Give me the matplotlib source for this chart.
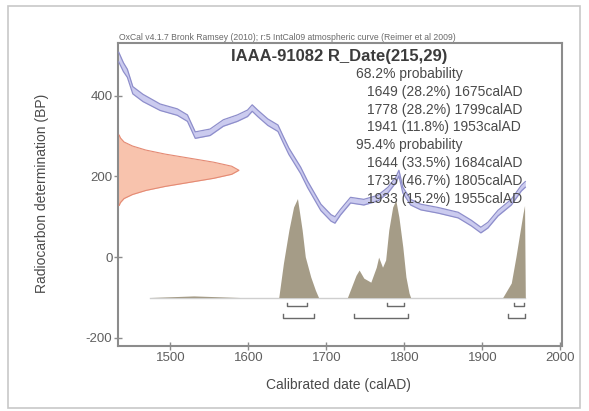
import numpy as np
import matplotlib
matplotlib.use("Agg")
import matplotlib.pyplot as plt
from matplotlib.patches import Rectangle

plt.rcParams['font.family'] = ['Liberation Sans', 'DejaVu Sans']
plt.rcParams['axes.unicode_minus'] = False

# calibration curve (IntCal09), centre of band
cal_years = [1434, 1440, 1445, 1452, 1465, 1487, 1509, 1522, 1532, 1551, 1568, 1586,
             1599, 1605, 1612, 1625, 1638, 1645, 1652, 1667, 1676, 1693, 1706, 1711,
             1718, 1731, 1748, 1766, 1779, 1789, 1793, 1798, 1808, 1821, 1843, 1869,
             1886, 1898, 1907, 1920, 1937, 1950, 1955]
cal_bp = [495, 470, 455, 413, 394, 371, 359, 344, 302, 309, 332, 344,
          356, 369, 356, 334, 319, 290, 262, 215, 180, 123, 97, 92,
          111, 141, 136, 146, 166, 191, 208, 166, 136, 124, 116, 104,
          84, 67, 79, 109, 136, 171, 180]
cal_err = [12, 11, 10, 9, 9, 8, 8, 8, 8, 8, 8, 8,
           8, 8, 8, 8, 8, 8, 8, 8, 8, 8, 8, 8,
           7, 7, 7, 7, 7, 7, 7, 7, 7, 7, 7, 7,
           7, 7, 7, 7, 7, 7, 7]

# radiocarbon measurement profile (BP vs relative density)
meas_bp = [128, 135, 145, 155, 165, 175, 185, 195, 205, 215,
           225, 235, 245, 255, 265, 275, 285, 295, 302]
meas_dens = [0.01, 0.02, 0.05, 0.12, 0.23, 0.39, 0.59, 0.79, 0.94, 1.0,
             0.94, 0.79, 0.59, 0.39, 0.23, 0.12, 0.05, 0.02, 0.01]

# calibrated probability distribution (height above its baseline)
post_years = [1474, 1530, 1590, 1639, 1645, 1652, 1658, 1663, 1669, 1673, 1680, 1686, 1690,
              1727, 1733, 1738, 1742, 1748, 1757, 1764, 1767, 1772, 1776, 1780, 1785,
              1789, 1793, 1798, 1802, 1806, 1808,
              1926, 1937, 1943, 1947, 1952, 1954, 1955]
post_height = [0, 4, 0, 0, 85, 167, 224, 245, 167, 101, 51, 18, 0,
               0, 30, 55, 68, 48, 38, 75, 100, 75, 93, 167, 224,
               241, 199, 125, 51, 11, 0,
               0, 36, 101, 149, 208, 228, 0]

# ranges
r68 = [(1649, 1675, 28.2), (1778, 1799, 28.2), (1941, 1953, 11.8)]
r95 = [(1644, 1684, 33.5), (1735, 1805, 46.7), (1933, 1955, 15.2)]

W, H = 589, 411
fig = plt.figure(figsize=(W / 100, H / 100), dpi=100)
fig.patch.set_facecolor('white')
fig.patches.append(Rectangle((8 / W, 1 - 408 / H), 572 / W, 402 / H,
                             transform=fig.transFigure, fill=False,
                             edgecolor='#c8c8c8', lw=1.2))

ax = fig.add_axes([118 / W, 1 - 346 / H, 444 / W, 303 / H])
ax.set_xlim(1433, 2002)
ax.set_ylim(-220, 530)

# calibration band
cy = np.array(cal_years)
cb = np.array(cal_bp)
ce = np.array(cal_err)
ax.fill_between(cy, cb - ce, cb + ce, color='#cbcbef', lw=0, zorder=2)
ax.plot(cy, cb - ce, color='#8e8ecb', lw=0.9, zorder=3)
ax.plot(cy, cb + ce, color='#8e8ecb', lw=0.9, zorder=3)

# measurement on y axis
x0 = 1433
mb = np.array(meas_bp)
md = np.array(meas_dens) * 155
ax.fill_betweenx(mb, x0, x0 + md, color='#f8c3ad', lw=0, zorder=2)
ax.plot(x0 + md, mb, color='#e48a74', lw=0.8, zorder=3)

# calibrated distribution
base = -100
py = np.array(post_years)
ph = np.array(post_height)
ax.plot([py.min(), py.max()], [base, base], color='#cfcfcf', lw=1.0, zorder=2)
ax.fill_between(py, base, base + ph, color='#a59c87', lw=0, zorder=4)

# range brackets
for lev, rng in ((-122, r68), (-150, r95)):
    for a, b, _ in rng:
        ax.plot([a, a, b, b], [lev + 9, lev, lev, lev + 9], color='#6a6a6a', lw=1.0, zorder=4)

# axes styling
for s in ax.spines.values():
    s.set_color('#8c8c8c')
    s.set_linewidth(1.5)
ax.set_xticks([1500, 1600, 1700, 1800, 1900, 2000])
ax.set_yticks([-200, 0, 200, 400])
ax.tick_params(axis='both', direction='inout', length=6, width=1, colors='#8c8c8c',
               labelcolor='#5f5f5f', labelsize=9.5, pad=1)

# texts
fig.text(119 / W, 1 - 37 / H,
         'OxCal v4.1.7 Bronk Ramsey (2010); r:5 IntCal09 atmospheric curve (Reimer et al 2009)',
         fontsize=6.2, color='#6a6a6a', ha='left', va='center')
fig.text(339 / W, 1 - 57 / H, 'IAAA-91082 R_Date(215,29)', fontsize=12,
         fontweight='bold', color='#3c3c3c', ha='center', va='center')

lines = [('68.2% probability', 356)]
lines += [('%d (%.1f%%) %dcalAD' % (a, p, b), 367) for a, b, p in r68]
lines += [('95.4% probability', 356)]
lines += [('%d (%.1f%%) %dcalAD' % (a, p, b), 367) for a, b, p in r95]
for i, (t, xp) in enumerate(lines):
    fig.text(xp / W, 1 - (74 + i * 17.8) / H, t, fontsize=10, color='#4a4a4a',
             ha='left', va='center', zorder=5)

fig.text(42 / W, 1 - 193 / H, 'Radiocarbon determination (BP)', rotation=90,
         fontsize=10, color='#4a4a4a', ha='center', va='center')
fig.text(338 / W, 1 - 385 / H, 'Calibrated date (calAD)',
         fontsize=10, color='#4a4a4a', ha='center', va='center')

fig.savefig('out.png', dpi=100)
